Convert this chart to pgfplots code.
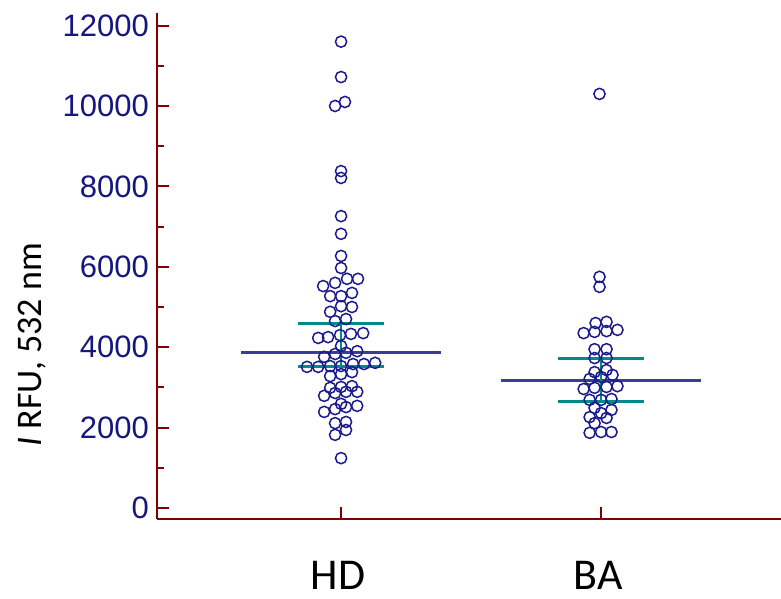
\documentclass[border=0pt]{standalone}
\usepackage{fontspec}
\setmainfont{Liberation Sans}
\newfontfamily\calibri{Carlito}
\usepackage{pgfplots}
\pgfplotsset{compat=1.18}

\definecolor{axisred}{HTML}{800000}
\definecolor{ticknavy}{HTML}{16167F}
\definecolor{dotnavy}{HTML}{1A1A8C}
\definecolor{meanblue}{HTML}{3B3B9B}
\definecolor{citeal}{HTML}{008A8A}

\begin{document}
\begin{tikzpicture}
  \useasboundingbox (-78.5pt,-40pt) rectangle (312pt,259.5pt);
  \begin{axis}[
      at={(0,0)}, anchor=south west,
      scale only axis,
      width=312pt, height=253pt,
      xmin=0.292, xmax=2.692,
      ymin=-274, ymax=12313,
      axis x line=bottom, axis y line=left,
      axis line style={-, axisred, line width=1pt},
      xtick={1,2}, xticklabels={HD,BA},
      ytick={0,2000,...,12000},
      minor ytick={1000,3000,...,11000},
      tick align=inside,
      tick style={axisred, line width=1pt},
      major tick length=6pt, minor tick length=3.5pt,
      yticklabel style={font=\fontsize{15.5}{18}\selectfont, text=ticknavy, xshift=-0.5pt},
      xticklabel style={font=\calibri\fontsize{22}{26}\selectfont, text=black,
        inner sep=0pt, yshift=-21pt, xshift=-1.5pt},
      scaled y ticks=false,
      /pgf/number format/assume math mode=true,
      /pgf/number format/1000 sep={},
      ylabel={\calibri\fontsize{18}{21}\selectfont\textit{I} RFU, 532 nm},
      ylabel style={at={(axis description cs:-0.2,0.344)}, anchor=center},
      clip=false,
    ]
    % mean lines
    \addplot[meanblue, line width=1.5pt] coordinates {(0.615,3860) (1.385,3860)};
    \addplot[meanblue, line width=1.5pt] coordinates {(1.615,3180) (2.385,3180)};
    % interval lines
    \addplot[citeal, line width=1.5pt] coordinates {(0.835,4600) (1.165,4600)};
    \addplot[citeal, line width=1.5pt] coordinates {(0.835,3510) (1.165,3510)};
    \addplot[citeal, line width=1pt] coordinates {(1,3510) (1,4600)};
    \addplot[citeal, line width=1.5pt] coordinates {(1.835,3710) (2.165,3710)};
    \addplot[citeal, line width=1.5pt] coordinates {(1.835,2640) (2.165,2640)};
    \addplot[citeal, line width=1pt] coordinates {(2,2640) (2,3710)};
    % HD
    \addplot[only marks, mark=o, mark size=2.8pt, dotnavy, mark options={line width=0.75pt}] coordinates {
      (1.000,11600) (1.000,10720) (0.977,10000) (1.015,10100)
      (1.000,8380) (1.000,8210) (1.000,7260) (1.000,6820) (1.000,6270) (1.000,5970)
      (1.023,5700) (1.065,5700) (0.931,5520) (0.977,5600)
      (0.958,5270) (1.000,5270) (1.042,5350)
      (1.000,5020) (0.958,4880) (1.042,5000)
      (0.977,4650) (1.019,4700)
      (0.912,4230) (0.950,4250) (0.996,4300) (1.038,4330) (1.085,4350)
      (1.000,4030)
      (0.935,3760) (0.977,3830) (1.019,3860) (1.062,3900)
      (0.869,3510) (0.912,3510) (0.958,3530) (1.000,3530) (1.046,3580) (1.088,3580) (1.131,3610)
      (0.958,3280) (1.000,3330) (1.042,3380)
      (0.958,2990) (1.000,3010) (1.042,3030)
      (0.935,2790) (0.977,2860) (1.019,2890) (1.062,2890)
      (0.935,2390) (0.977,2460) (1.000,2590) (1.019,2510) (1.062,2540)
      (0.977,2110) (1.019,2140)
      (0.977,1820) (1.019,1940)
      (1.000,1240)
    };
    % BA
    \addplot[only marks, mark=o, mark size=2.8pt, dotnavy, mark options={line width=0.75pt}] coordinates {
      (1.994,10300) (1.994,5750) (1.994,5500)
      (1.979,4600) (2.021,4630)
      (1.933,4350) (1.975,4380) (2.021,4400) (2.063,4430)
      (1.975,3950) (2.021,3950)
      (1.975,3730) (2.021,3730)
      (1.975,3380) (2.021,3430) (2.044,3310)
      (1.956,3210) (2.000,3260)
      (1.933,2960) (1.975,2990) (2.021,3010) (2.063,3030)
      (1.956,2690) (2.000,2690) (2.040,2710)
      (1.975,2490) (2.040,2440)
      (2.000,2360)
      (1.956,2260) (2.021,2240)
      (1.975,2110)
      (1.956,1870) (2.000,1890) (2.040,1890)
    };
  \end{axis}
\end{tikzpicture}
\end{document}
